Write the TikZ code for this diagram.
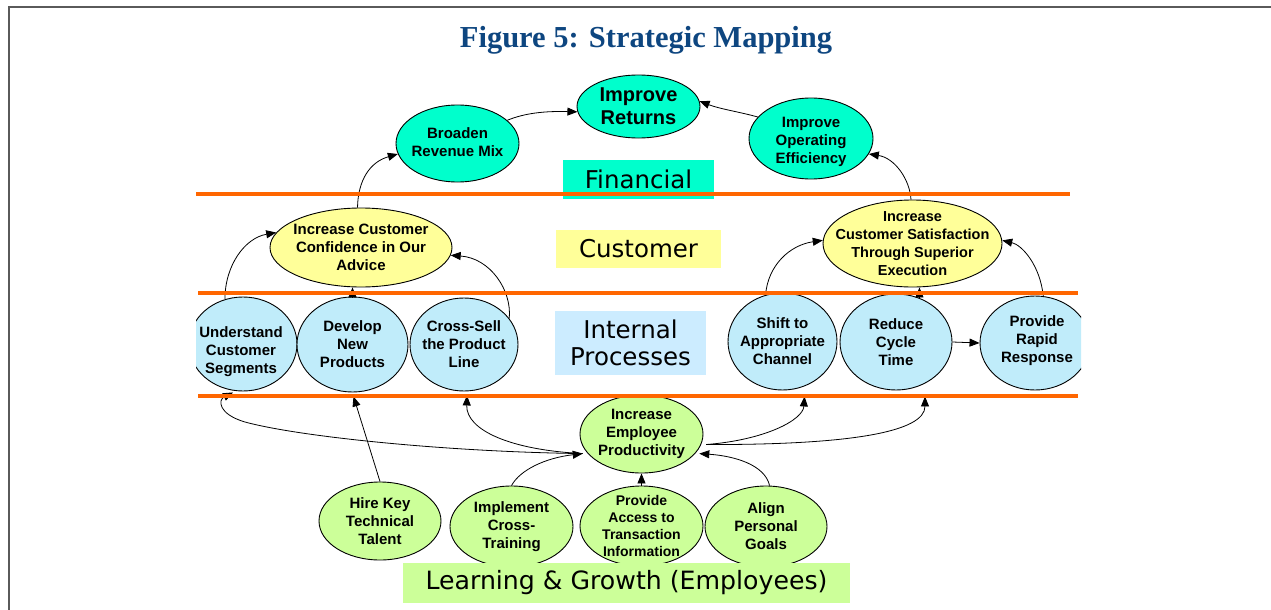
\documentclass[tikz,border=0pt]{standalone}
\usepackage{fontspec}
\setmainfont{Liberation Sans}
\newfontfamily\labfont{DejaVu Sans}
\newfontfamily\titlefont{Liberation Serif}
\usetikzlibrary{shapes.geometric,arrows.meta}
\definecolor{finc}{RGB}{0,255,204}
\definecolor{custc}{RGB}{255,255,153}
\definecolor{intc}{RGB}{192,236,250}
\definecolor{intbox}{RGB}{204,236,255}
\definecolor{learnc}{RGB}{204,255,153}
\definecolor{orangec}{RGB}{255,102,0}
\definecolor{titlec}{RGB}{14,70,128}
\definecolor{framec}{RGB}{90,90,90}
\begin{document}
\begin{tikzpicture}[x=1pt,y=-1pt,
  ell/.style={ellipse,draw=black,line width=0.9pt,inner sep=0pt},
  finell/.style={ell,fill=finc},
  custell/.style={ell,fill=custc},
  intell/.style={ell,fill=intc},
  learnell/.style={ell,fill=learnc},
  txt/.style={inner sep=0pt,align=center,font=\bfseries\fontsize{15}{18}\selectfont},
  T/.style={label={[txt]center:{#1}}},
  conn/.style={-{Triangle[length=10pt,width=8pt]},line width=0.8pt,black},
  band/.style={orangec,line width=4pt},
  lab/.style={inner sep=0pt,align=center,font=\labfont\fontsize{24.5}{27}\selectfont}]
\useasboundingbox (0,0) rectangle (1271,610);
\fill[white] (0,0) rectangle (1271,610);
\draw[framec,line width=1.8pt] (9,611) -- (9,7) -- (1272,7);

\node[anchor=base,text=titlec,inner sep=0pt,font=\titlefont\bfseries\fontsize{30.5}{34}\selectfont] (title) at (646,48) {Figure 5: Strategic Mapping};

% Financial
\node[finell,minimum width=123pt,minimum height=63pt,
  label={[txt,font=\bfseries\fontsize{20}{23}\selectfont]center:{Improve\\Returns}}] (ir) at (638.5,106.5) {};
\node[finell,minimum width=123pt,minimum height=77pt,label={[txt,yshift=1pt]center:{Broaden\\Revenue Mix}}] (brm) at (457.5,143.5) {};
\node[finell,minimum width=124pt,minimum height=81pt,label={[txt,yshift=-3pt]center:{Improve\\Operating\\Efficiency}}] (ioe) at (811,138.5) {};

% Customer
\node[custell,minimum width=182pt,minimum height=79pt,T={Increase Customer\\Confidence in Our\\Advice}] (ccc) at (361,247.5) {};
\node[custell,minimum width=179pt,minimum height=87pt,
  label={[txt,font=\bfseries\fontsize{14.5}{18}\selectfont]center:{Increase\\Customer Satisfaction\\Through Superior\\Execution}}] (ccs) at (912.5,243.5) {};

% Internal
\begin{scope}
\clip (196,250) rectangle (420,420);
\node[intell,minimum width=108pt,minimum height=94pt] (ucs) at (243,344) {};
\end{scope}
\node[txt] (ucst) at (241,352) {Understand\\Customer\\Segments};
\node[intell,minimum width=111pt,minimum height=95pt,T={Develop\\New\\Products}] (dnp) at (352.5,344.5) {};
\node[intell,minimum width=108pt,minimum height=93pt,T={Cross-Sell\\the Product\\Line}] (csp) at (464,344.5) {};
\node[intell,minimum width=109pt,minimum height=97pt,T={Shift to\\Appropriate\\Channel}] (sac) at (782.5,341.5) {};
\node[intell,minimum width=112pt,minimum height=96pt,T={Reduce\\Cycle\\Time}] (rct) at (896,342) {};
\begin{scope}
\clip (900,250) rectangle (1081,420);
\node[intell,minimum width=110pt,minimum height=94pt] (prr) at (1035,343) {};
\end{scope}
\node[txt] (prrt) at (1037,341) {Provide\\Rapid\\Response};

% Learning
\node[learnell,minimum width=123pt,minimum height=78pt,T={Increase\\Employee\\Productivity}] (iep) at (641.5,434) {};
\node[learnell,minimum width=122pt,minimum height=78pt,T={Hire Key\\Technical\\Talent}] (hkt) at (380,521) {};
\node[learnell,minimum width=123pt,minimum height=81pt,T={Implement\\Cross-\\Training}] (ict) at (511.5,526.5) {};
\node[learnell,minimum width=123pt,minimum height=80pt,
  label={[txt,font=\bfseries\fontsize{14}{16.7}\selectfont]center:{Provide\\Access to\\Transaction\\Information}}] (pat) at (641.5,526) {};
\node[learnell,minimum width=122pt,minimum height=81pt,T={Align\\Personal\\Goals}] (apg) at (766,526.5) {};

\coordinate (iepL) at ([xshift=-5pt]iep.200);
\coordinate (iepR) at ([xshift=4pt]iep.340);
\coordinate (iepO) at ([xshift=5pt]iep.350);

% connectors: financial
\draw[conn] (brm.25) .. controls (525,113) and (545,111) .. (ir.185);
\draw[conn] (ioe.158) .. controls (740,112) and (720,109) .. (ir.5);
\draw[conn] (ccc.95) .. controls (358,180) and (370,162) .. (brm.190);
\draw[conn] (ccs.92) .. controls (910,180) and (895,158) .. (ioe.345);
% customer
\draw[conn] (ucs.112) .. controls (225,265) and (245,238) .. (ccc.170);
\draw[conn] (dnp.north) -- (dnp.north |- ccc.south);
\draw[conn] (csp.30) .. controls (512,290) and (490,258) .. (ccc.355);
\draw[conn] (sac.110) .. controls (768,265) and (790,245) .. (ccs.178);
\draw[conn] (rct.62) -- (rct.62 |- ccs.south);
\draw[conn] (prr.80) .. controls (1040,265) and (1022,245) .. (ccs.2);
\draw[conn] (rct.east) -- (prr.west);
% learning
\draw[conn] (iepL) .. controls (450,452) and (300,437) .. (245,422)
  .. controls (218,414) and (218,400) .. ([shift={(-10pt,-1pt)}]ucs.south);
\draw[conn] (iepL) .. controls (510,450) and (466,430) .. ([shift={(3pt,-4pt)}]csp.south);
\draw[conn] (hkt.north) -- ([shift={(1pt,-4pt)}]dnp.south);
\draw[conn] (ict.north) .. controls (520,470) and (545,458) .. (iepL);
\draw[conn] (pat.north) -- (iep.south);
\draw[conn] (apg.85) .. controls (765,465) and (735,456) .. (iepR);
\draw[conn] (iepO) .. controls (765,440) and (803,420) .. ([shift={(22pt,-6pt)}]sac.south);
\draw[conn] (iepO) .. controls (850,445) and (925,432) .. ([shift={(29pt,-6pt)}]rct.south);

% perspective labels
\node[lab,fill=finc,minimum width=151pt,minimum height=39pt] (finlab) at (638.5,179.5) {Financial};
\node[lab,fill=custc,minimum width=165pt,minimum height=38pt] (custlab) at (638.5,249) {Customer};
\node[lab,fill=intbox,minimum width=151pt,minimum height=64pt] (intlab) at (630.5,343) {Internal\\Processes};
\node[lab,fill=learnc,minimum width=447pt,minimum height=40pt,font=\labfont\fontsize{25.2}{28}\selectfont] (learnlab) at (626.5,583) {Learning \& Growth (Employees)};

% orange bands
\draw[band] (196,194) -- (1070,194);
\draw[band] (198,293) -- (1078,293);
\draw[band] (198,396) -- (1078,396);
\end{tikzpicture}
\end{document}
